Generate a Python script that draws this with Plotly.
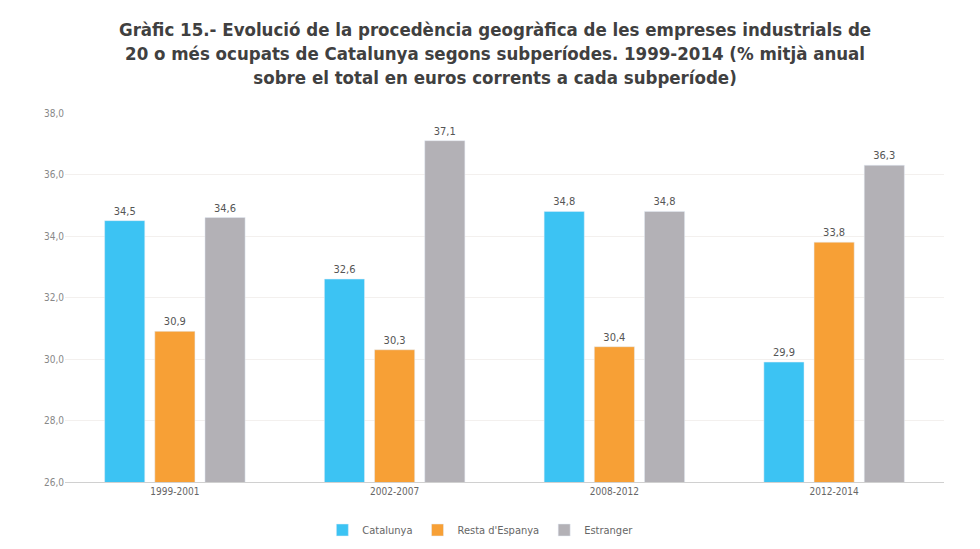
import plotly.graph_objects as go

categories = ["1999-2001", "2002-2007", "2008-2012", "2012-2014"]
catalunya = [34.5, 32.6, 34.8, 29.9]
resta = [30.9, 30.3, 30.4, 33.8]
estranger = [34.6, 37.1, 34.8, 36.3]
series_names = ["Catalunya", "Resta d'Espanya", "Estranger"]
colors = ["#3cc3f3", "#f7a036", "#b3b1b6"]
tick_vals = [26, 28, 30, 32, 34, 36, 38]
tick_text = ["26,0", "28,0", "30,0", "32,0", "34,0", "36,0", "38,0"]

FONT = "DejaVu Sans Condensed, Liberation Sans Narrow, Arial Narrow, sans-serif"

fig = go.Figure()
for name, vals, col in zip(series_names, [catalunya, resta, estranger], colors):
    fig.add_trace(go.Bar(
        x=categories, y=vals, name=name, marker_color=col,
        text=[f"{v:.1f}".replace(".", ",") for v in vals],
        textposition="outside", cliponaxis=False,
        textfont=dict(family=FONT, size=11, color="#555555"),
    ))

fig.update_layout(
    width=980, height=549,
    paper_bgcolor="white", plot_bgcolor="white",
    barmode="group", bargap=0.315, bargroupgap=0.2,
    margin=dict(l=57, r=44, t=105, b=75, autoexpand=False),
    title=dict(
        text="<b>Gràfic 15.- Evolució de la procedència geogràfica de les empreses industrials de<br>"
             "20 o més ocupats de Catalunya segons subperíodes. 1999-2014 (% mitjà anual<br>"
             "sobre el total en euros corrents a cada subperíode)</b>",
        x=0.497, xanchor="center", xref="container", yref="container",
        y=1 - 28 / 549, yanchor="top",
        font=dict(family=FONT, size=18.5, color="#404040"),
    ),
    xaxis=dict(showline=True, linecolor="#d0d0d0", linewidth=1, ticks="",
               tickfont=dict(family=FONT, size=10, color="#666666")),
    yaxis=dict(range=[26, 38], tickvals=tick_vals, ticktext=tick_text,
               showgrid=True, gridcolor="#f3f0ee", zeroline=False,
               tickfont=dict(family=FONT, size=10, color="#888888")),
    legend=dict(orientation="h", x=0.482, xanchor="center", xref="container",
                yref="container", y=27 / 549, yanchor="middle",
                font=dict(family=FONT, size=11, color="#666666")),
    showlegend=True,
)

fig.write_html("out.html")
